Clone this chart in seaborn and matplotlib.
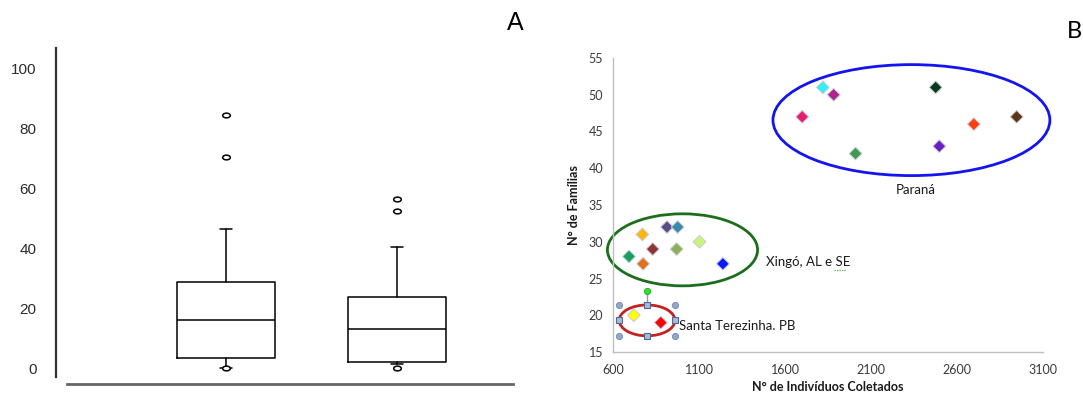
import matplotlib
matplotlib.use("Agg")
import matplotlib.pyplot as plt
import seaborn as sns
import pandas as pd
from matplotlib.patches import Ellipse
from matplotlib.path import Path
from matplotlib.markers import MarkerStyle
from matplotlib.transforms import Affine2D

# ---------------- Panel A: box plot summary statistics ----------------
box_positions = [1, 2]
box_medians = [16.1, 13.1]
box_q1 = [3.3, 2.0]
box_q3 = [28.8, 23.9]
box_whisker_low = [0.0, 1.3]
box_whisker_high = [46.4, 40.4]
box_outliers = [[0.0, 70.5, 84.6], [0.0, 52.6, 56.6]]
a_yticks = [0, 20, 40, 60, 80, 100]

# ---------------- Panel B: families vs. individuals collected ----------------
sites = ["P1", "P2", "P3", "P4", "P5", "P6", "P7", "P8",
         "X1", "X2", "X3", "X4", "X5", "X6", "X7", "X8", "X9",
         "S1", "S2"]
individuos = [1700, 1820, 1883, 2010, 2476, 2497, 2698, 2947,
              693, 771, 775, 831, 914, 976, 970, 1103, 1239,
              721, 878]
familias = [47, 51, 50, 42, 51, 43, 46, 47,
            28, 31, 27, 29, 32, 32, 29, 30, 27,
            20, 19]
site_colors = ["#ea1a6c", "#35eef6", "#b3218c", "#3b9a4b", "#0b3a1c",
               "#6a1ec6", "#ff3f10", "#5e3514",
               "#16a25e", "#ffb60a", "#e2711c", "#8e3434", "#5d4b86",
               "#3a8aaa", "#8fae58", "#c9f57a", "#0a18ff",
               "#ffff00", "#ff0000"]
b_xticks = [600, 1100, 1600, 2100, 2600, 3100]
b_yticks = [15, 20, 25, 30, 35, 40, 45, 50, 55]

# Group outlines: (center x, center y, width, height, colour)
groups = {
    "Paraná": (2335, 46.55, 1610, 15.1, "#1414f0"),
    "Xingó, AL e SE": (1004, 28.9, 873, 9.8, "#1c6e1c"),
    "Santa Terezinha. PB": (798, 19.3, 324, 4.2, "#c42222"),
}
group_labels = {
    "Paraná": (2360, 37.1, "center"),
    "Xingó, AL e SE": (1489, 27.3, "left"),
    "Santa Terezinha. PB": (982, 18.5, "left"),
}

sns.set_theme(style="white")
plt.rcParams["font.family"] = ["Liberation Sans", "DejaVu Sans"]

W, H = 1083, 394
fig = plt.figure(figsize=(W / 100, H / 100), dpi=100)


def frac(x0, y0, x1, y1):
    return [x0 / W, 1 - y1 / H, (x1 - x0) / W, (y1 - y0) / H]


# ---------------- Panel A ----------------
axA = fig.add_axes(frac(56, 48, 513, 384))
stats = []
for i in range(len(box_positions)):
    stats.append(dict(med=box_medians[i], q1=box_q1[i], q3=box_q3[i],
                      whislo=box_whisker_low[i], whishi=box_whisker_high[i],
                      fliers=box_outliers[i]))

oval = Path.unit_circle().transformed(Affine2D().scale(1.0, 0.62))
line_kw = dict(color="black", linewidth=1.1)
axA.bxp(stats, positions=box_positions, widths=0.573, capwidths=0.076,
        boxprops=line_kw, medianprops=line_kw, whiskerprops=line_kw,
        capprops=line_kw,
        flierprops=dict(marker=MarkerStyle(oval), markersize=5.5,
                        markerfacecolor="white", markeredgecolor="black",
                        markeredgewidth=1.1, linestyle="none"),
        manage_ticks=False)
axA.set_xlim(1 - 170 / 171, 2 + 116 / 171)
axA.set_ylim(-5.35, 107)
axA.set_yticks(a_yticks)
axA.set_yticklabels([str(v) for v in a_yticks])
axA.set_xticks([])
axA.tick_params(axis="y", length=0, pad=14, labelsize=11, labelcolor="#2b2b2b")
for s in ["top", "right"]:
    axA.spines[s].set_visible(False)
axA.spines["left"].set_color("#333333")
axA.spines["left"].set_linewidth(1.6)
axA.spines["left"].set_bounds(-3, 107)
axA.spines["bottom"].set_color("#666666")
axA.spines["bottom"].set_linewidth(2.0)
axA.spines["bottom"].set_bounds(1 - 159 / 171, 2 + 116 / 171)
axA.set_facecolor("white")
fig.text(515 / W, 1 - 23 / H, "A", fontsize=18, ha="center", va="center",
         family=["Liberation Sans", "DejaVu Sans"], color="black")

# ---------------- Panel B ----------------
bfont = ["Lato", "DejaVu Sans"]
axB = fig.add_axes(frac(613, 58, 1043, 352))
df = pd.DataFrame({"site": sites, "individuos": individuos, "familias": familias})
sns.scatterplot(data=df, x="individuos", y="familias", hue="site",
                palette=dict(zip(sites, site_colors)), marker="D", s=42,
                edgecolor="#c8cbd6", linewidth=0.7, legend=False, ax=axB,
                zorder=3)

for name, (cx, cy, w, h, col) in groups.items():
    axB.add_patch(Ellipse((cx, cy), w, h, fill=False, edgecolor=col,
                          linewidth=2.0, zorder=2, clip_on=False))
for name, (tx, ty, ha) in group_labels.items():
    axB.text(tx, ty, name, ha=ha, va="center", fontsize=9.5,
             family=bfont, color="#1a1a1a")

# spell-check underline under "SE"
axB.plot([1885, 1957], [26.15, 26.15], color="#5aa84a", linewidth=0.9,
         linestyle=(0, (1, 1)), zorder=4)

# shape selection handles around the Santa Terezinha outline
cx, cy, w, h, _ = groups["Santa Terezinha. PB"]
x0, x1, y0, y1 = cx - w / 2, cx + w / 2, cy - h / 2, cy + h / 2
axB.plot([cx, cx], [y1, y1 + 1.9], color="#8a9cc0", linewidth=1.0, zorder=4)
axB.plot([x0, x1, x0, x1], [y0, y0, y1, y1], linestyle="none", marker="o",
         markersize=4.5, markerfacecolor="#93a7c9", markeredgecolor="#7488b0",
         markeredgewidth=0.6, zorder=5)
axB.plot([cx, cx, x0, x1], [y0, y1, cy, cy], linestyle="none", marker="s",
         markersize=4.5, markerfacecolor="#a9bad8", markeredgecolor="#52688f",
         markeredgewidth=0.8, zorder=5)
axB.plot([cx], [y1 + 1.9], linestyle="none", marker="o", markersize=4.5,
         markerfacecolor="#2ee02e", markeredgecolor="#1ab01a",
         markeredgewidth=0.6, zorder=5)

axB.set_xlim(600, 3100)
axB.set_ylim(15, 55)
axB.set_xticks(b_xticks)
axB.set_yticks(b_yticks)
axB.set_xticklabels([str(v) for v in b_xticks], family=bfont)
axB.set_yticklabels([str(v) for v in b_yticks], family=bfont)
axB.tick_params(axis="both", direction="out", length=4, width=1,
                color="#bfbfbf", labelsize=9, labelcolor="#3a3a3a")
axB.tick_params(axis="x", pad=5)
axB.tick_params(axis="y", pad=3)
for s in ["top", "right"]:
    axB.spines[s].set_visible(False)
for s in ["left", "bottom"]:
    axB.spines[s].set_color("#bfbfbf")
    axB.spines[s].set_linewidth(1.0)
axB.set_xlabel("N° de Indivíduos Coletados", fontsize=9, fontweight="bold",
               family=bfont, color="#1a1a1a", labelpad=3)
axB.set_ylabel("N° de Famílias", fontsize=9, fontweight="bold",
               family=bfont, color="#1a1a1a", labelpad=6)
axB.set_facecolor("white")
fig.text(1074 / W, 1 - 32 / H, "B", fontsize=17, ha="center", va="center",
         family=bfont, color="black")

fig.savefig("out.png", dpi=100, facecolor="white")
